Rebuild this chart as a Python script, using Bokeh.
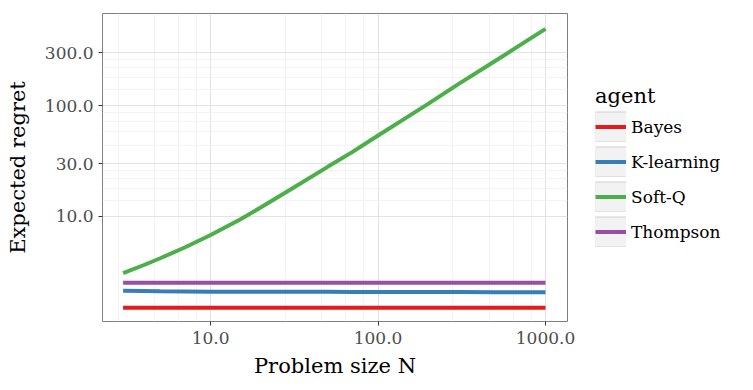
import numpy as np
from bokeh.plotting import figure
from bokeh.layouts import row
from bokeh.models import FixedTicker, PrintfTickFormatter, Legend, LegendItem, Range1d
from bokeh.embed import file_html
from bokeh.resources import INLINE

# ---- data ----
N = [3, 4, 5, 7, 10, 15, 20, 30, 50, 70, 100, 150, 200, 300, 500, 700, 1000]
bayes = [1.50, 1.50, 1.50, 1.50, 1.50, 1.50, 1.50, 1.50, 1.50, 1.50, 1.50, 1.50, 1.50, 1.50, 1.50, 1.50, 1.50]
k_learning = [2.14, 2.13, 2.12, 2.11, 2.10, 2.10, 2.09, 2.09, 2.09, 2.08, 2.08, 2.08, 2.08, 2.08, 2.07, 2.07, 2.07]
soft_q = [3.08, 3.65, 4.2, 5.25, 6.8, 9.4, 12.1, 17.5, 28.0, 38.0, 53.7, 79.0, 104.0, 155.0, 252.0, 348.0, 491.0]
thompson = [2.53, 2.53, 2.53, 2.53, 2.53, 2.53, 2.53, 2.53, 2.53, 2.53, 2.53, 2.53, 2.53, 2.53, 2.53, 2.53, 2.53]

agents = ["Bayes", "K-learning", "Soft-Q", "Thompson"]
series = [bayes, k_learning, soft_q, thompson]
colors = ["#e41a1c", "#377eb8", "#4daf4a", "#984ea3"]

x_ticks = [10, 100, 1000]
x_minor = [2.8, 4.6, 6.4, 8.2, 28, 46, 64, 82, 280, 460, 640, 820]
y_ticks = [10, 30, 100, 300]
y_minor = [14, 18, 22, 26, 44, 58, 72, 86, 140, 180, 220, 260]

FONT = "DejaVu Serif"

p = figure(width=575, height=390,
           x_axis_type="log", y_axis_type="log",
           x_range=(2.26, 1353), y_range=(1.13, 675),
           output_backend="svg", toolbar_location=None,
           min_border_left=102, min_border_top=13, min_border_bottom=69,
           min_border_right=8,
           x_axis_label="Problem size N", y_axis_label="Expected regret")

p.background_fill_color = "white"
p.border_fill_color = "white"
p.outline_line_color = "#7f7f7f"
p.outline_line_width = 1

xt = FixedTicker(ticks=x_ticks, minor_ticks=x_minor)
yt = FixedTicker(ticks=y_ticks, minor_ticks=y_minor)
p.xaxis.ticker = xt
p.yaxis.ticker = yt
p.xgrid.ticker = xt
p.ygrid.ticker = yt
for g in (p.xgrid, p.ygrid):
    g.grid_line_color = "#e3e3e3"
    g.grid_line_width = 1.2
    g.minor_grid_line_color = "#f3f3f3"
    g.minor_grid_line_width = 1

for ax in (p.xaxis, p.yaxis):
    ax.formatter = PrintfTickFormatter(format="%.1f")
    ax.axis_line_color = None
    ax.minor_tick_line_color = None
    ax.major_tick_line_color = "#333333"
    ax.major_tick_out = 4
    ax.major_tick_in = 0
    ax.major_label_text_font = FONT
    ax.major_label_text_font_size = "17px"
    ax.major_label_text_color = "#4d4d4d"
    ax.axis_label_text_font = FONT
    ax.axis_label_text_font_size = "21px"
    ax.axis_label_text_font_style = "normal"
    ax.axis_label_text_color = "black"
p.yaxis.axis_label_standoff = 12
p.xaxis.axis_label_standoff = 7
p.xaxis.major_label_standoff = 6

for name, vals, col in zip(agents, series, colors):
    p.line(N, vals, line_color=col, line_width=4)

# ---- legend panel (separate figure with no axes) ----
lf = figure(width=178, height=390, x_range=Range1d(0, 1), y_range=Range1d(0, 1),
            x_axis_location=None, y_axis_location=None,
            output_backend="svg", toolbar_location=None,
            min_border=0, min_border_left=0, min_border_right=0,
            min_border_top=0, min_border_bottom=0)
lf.outline_line_color = None
lf.grid.visible = False
lf.background_fill_color = "white"
lf.border_fill_color = "white"

bg_out = lf.line(x=[np.nan], y=[np.nan], line_width=31, line_color="#cfcfcf")
bg_in = lf.line(x=[np.nan], y=[np.nan], line_width=29, line_color="#f2f2f2")
items = []
for name, col in zip(agents, colors):
    r = lf.line(x=[np.nan], y=[np.nan], line_color=col, line_width=4)
    items.append(LegendItem(label=name, renderers=[bg_out, bg_in, r]))

legend = Legend(items=items, title="agent", location=(20, 74),
                orientation="vertical", glyph_width=31, glyph_height=31,
                spacing=4, label_standoff=5, padding=0, margin=0,
                border_line_color=None, background_fill_alpha=0,
                label_text_font=FONT, label_text_font_size="17px",
                label_text_color="black",
                title_text_font=FONT, title_text_font_size="21px",
                title_text_font_style="normal", title_text_color="black",
                title_standoff=3)
lf.add_layout(legend, "center")

layout = row(p, lf)
open("out.html", "w").write(file_html(layout, INLINE))
